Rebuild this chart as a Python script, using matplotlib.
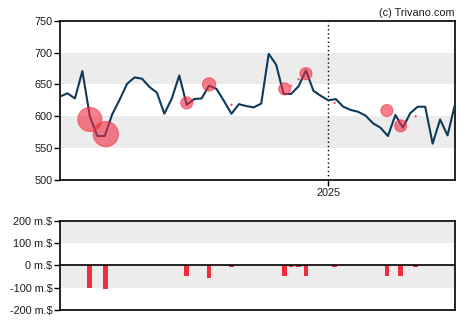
import matplotlib
matplotlib.use("Agg")
import matplotlib.pyplot as plt
import matplotlib.dates as mdates
import numpy as np
import pandas as pd

# Weekly closing prices
start_date = "2024-04-24"
prices = [631, 636, 628, 671, 600, 569, 569, 603, 626, 651,
          661, 659, 646, 637, 604, 628, 664, 618, 627, 628,
          648, 643, 624, 604, 619, 616, 614, 620, 698, 681,
          635, 635, 647, 672, 640, 632, 625, 627, 615, 610,
          607, 601, 589, 582, 569, 602, 582, 605, 615, 615,
          557, 595, 570, 619]

# Insider transactions: date, price level of the marker, net amount (millions $)
trade_dates = ["2024-05-22", "2024-06-06", "2024-08-21", "2024-09-11",
               "2024-10-02", "2024-11-21", "2024-11-27", "2024-12-04",
               "2024-12-11", "2025-01-07", "2025-02-25", "2025-03-10",
               "2025-03-24"]
trade_prices = [595, 572, 621, 650, 618, 643, 648, 658, 667, 621, 609, 585, 600]
trade_amounts = [-100, -105, -50, -55, -6, -50, -6, -6, -50, -6, -50, -50, -6]

price_ticks = [500, 550, 600, 650, 700, 750]
flow_ticks = [-200, -100, 0, 100, 200]
flow_labels = ["-200 m.$", "-100 m.$", "0 m.$", "100 m.$", "200 m.$"]

dates = pd.date_range(start_date, periods=len(prices), freq="7D")
tdates = pd.to_datetime(trade_dates)

plt.rcParams["font.family"] = ["Liberation Sans", "DejaVu Sans"]
text_color = "#1b1b1b"
line_color = "#0e3a5a"
red = "#f02c40"
band = "#ececec"

fig = plt.figure(figsize=(4.7, 3.25), dpi=100)
ax = fig.add_axes([0.1277, 0.4462, 0.8404, 0.4901])
ax2 = fig.add_axes([0.1277, 0.0462, 0.8404, 0.2748])

# --- price panel ---
ax.axhspan(550, 600, color=band, lw=0, zorder=0)
ax.axhspan(650, 700, color=band, lw=0, zorder=0)
ax.plot(dates, prices, color=line_color, lw=1.5, zorder=3)

px_per_m = 0.24  # marker diameter in pixels per million $
sizes = [(abs(a) * px_per_m * 0.72) ** 2 for a in trade_amounts]
ax.scatter(tdates, trade_prices, s=sizes, color=red, alpha=0.6,
           edgecolors=red, linewidths=0.8, zorder=4)

ax.axvline(pd.Timestamp("2025-01-01"), color="black", lw=1, ls=(0, (1, 2)), zorder=2)
ax.set_xlim(dates[0], dates[-1])
ax.set_ylim(500, 750)
ax.set_yticks(price_ticks)
ax.set_xticks([pd.Timestamp("2025-01-01")])
ax.xaxis.set_major_formatter(mdates.DateFormatter("%Y"))

# --- insider flow panel ---
ax2.axhspan(-100, 0, color=band, lw=0, zorder=0)
ax2.axhspan(100, 200, color=band, lw=0, zorder=0)
ax2.bar(tdates, trade_amounts, width=4.4, color=red, zorder=3)
ax2.axhline(0, color="black", lw=1.2, zorder=4)
ax2.set_xlim(dates[0], dates[-1])
ax2.set_ylim(-200, 200)
ax2.set_yticks(flow_ticks)
ax2.set_yticklabels(flow_labels)
ax2.set_xticks([])

for a in (ax, ax2):
    for s in a.spines.values():
        s.set_color("black")
        s.set_linewidth(1.2)
    a.tick_params(axis="both", length=4, width=1, color="black",
                  labelsize=7.8, labelcolor=text_color, pad=1.5)

fig.text(0.968, 0.975, "(c) Trivano.com", ha="right", va="top",
         fontsize=7.8, color=text_color)

fig.savefig("out.png", dpi=100)
